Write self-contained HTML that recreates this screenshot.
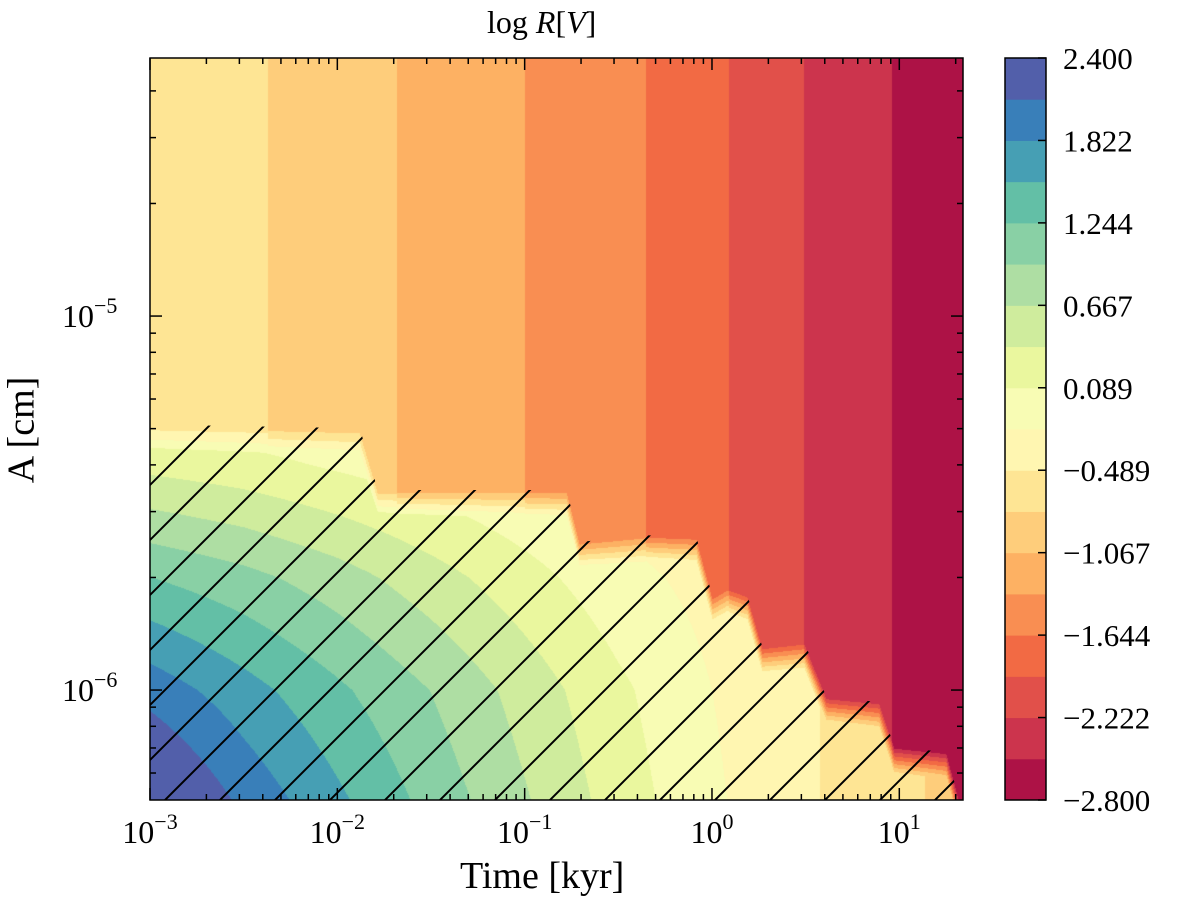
<!DOCTYPE html>
<html><head><meta charset="utf-8"><style>
body{margin:0;background:#fff;width:1200px;height:914px;overflow:hidden;position:relative;font-family:"Liberation Serif",serif;}
.t{position:absolute;font-size:29px;color:#000;white-space:nowrap;}
canvas{position:absolute;}
svg{position:absolute;left:0;top:0;}
</style></head><body>
<canvas id="field" width="813" height="742" style="left:150px;top:58px"></canvas>
<svg id="ov" width="1200" height="914"></svg>
<div class="t" style="left:487px;top:4px;font-size:32px">log <i>R</i>[<i>V</i>]</div>
<div class="t" style="left:460px;top:854px;font-size:38px">Time [kyr]</div>
<div class="t" style="left:-32px;top:408px;font-size:38px;transform:rotate(-90deg)">A [cm]</div>
<script>
// ---- data ----
const X0=-3, X1=1.34, Y0=-6.294, Y1=-4.31;
const topEdgesLogT=[-2.37,-1.68,-1.00,-0.35,0.09,0.49,0.96];
const topValues=[-0.64,-0.93,-1.21,-1.50,-1.79,-2.08,-2.37,-2.65];
const lowLogT=[-3,-2.5,-2,-1.5,-1,-0.5,0,0.5,1,1.35];
const lowLogA=[-6.3,-6.0,-5.7,-5.4,-5.1];
const lowZ=[
 [2.6,2.05,1.6,1.15,0.7,0.25,-0.15,-0.45,-0.7,-0.9],
 [2.0,1.65,1.3,0.95,0.55,0.15,-0.2,-0.45,-0.7,-0.9],
 [1.25,1.05,0.8,0.5,0.2,-0.1,-0.3,-0.5,-0.75,-0.9],
 [0.3,0.2,0.05,-0.1,-0.25,-0.4,-0.5,-0.65,-0.85,-0.95],
 [-0.5,-0.5,-0.55,-0.6,-0.65,-0.7,-0.75,-0.8,-0.9,-1.0]];
const bndLogT=[-3,-1.88,-1.784,-0.776,-0.707,-0.349,-0.083,0.003,0.083,0.189,0.269,0.493,0.611,0.893,0.973,1.251,1.320,1.34];
const bndLogA=[-5.29,-5.30,-5.465,-5.465,-5.604,-5.586,-5.591,-5.751,-5.727,-5.746,-5.885,-5.872,-6.019,-6.032,-6.152,-6.166,-6.294,-6.3];
const levelMin=-2.8, levelMax=2.4, nLevels=18;
const cbLabels=["2.400","1.822","1.244","0.667","0.089","\u22120.489","\u22121.067","\u22121.644","\u22122.222","\u22122.800"];
// ---- scales ----
const PL=150,PR=963,PT=58,PB=800;
const sx=v=>PL+(v-X0)/(X1-X0)*(PR-PL);
const sy=v=>PB-(v-Y0)/(Y1-Y0)*(PB-PT);
const spec=[[158,1,66],[213,62,79],[244,109,67],[253,174,97],[254,224,139],[255,255,191],[230,245,152],[171,221,164],[102,194,165],[50,136,189],[94,79,162]];
function cmap(f){f=Math.max(0,Math.min(1,f));const p=f*10,i=Math.min(9,Math.floor(p)),t=p-i;const a=spec[i],b=spec[i+1];return [0,1,2].map(k=>Math.round(a[k]+(b[k]-a[k])*t));}
function levelColor(z){let i=Math.floor((z-levelMin)/((levelMax-levelMin)/nLevels));i=Math.max(0,Math.min(nLevels-1,i));return cmap((i+0.5)/nLevels);}
function interp1(xs,ys,x){if(x<=xs[0])return ys[0];for(let i=1;i<xs.length;i++){if(x<=xs[i]){const t=(x-xs[i-1])/(xs[i]-xs[i-1]);return ys[i-1]+(ys[i]-ys[i-1])*t;}}return ys[ys.length-1];}
function zTop(lt){let i=0;while(i<topEdgesLogT.length&&lt>topEdgesLogT[i])i++;return topValues[i];}
function zLow(lt,la){const rows=lowZ.map(r=>interp1(lowLogT,r,lt));return interp1(lowLogA,rows,la);}
function zAt(lt,la){const b=interp1(bndLogT,bndLogA,lt);const d=b-la;const zt=zTop(lt);if(d<=0)return zt;const zl=zLow(lt,la);if(d<0.07)return zt+(zl-zt)*(d/0.07);return zl;}
// ---- field ----
const cv=document.getElementById('field'),ctx=cv.getContext('2d');
const W=cv.width,H=cv.height,img=ctx.createImageData(W,H);
for(let py=0;py<H;py++){const la=Y1-(py+0.5)/H*(Y1-Y0);
 for(let px=0;px<W;px++){const lt=X0+(px+0.5)/W*(X1-X0);const c=levelColor(zAt(lt,la));const o=(py*W+px)*4;img.data[o]=c[0];img.data[o+1]=c[1];img.data[o+2]=c[2];img.data[o+3]=255;}}
ctx.putImageData(img,0,0);
// ---- overlay ----
const NS='http://www.w3.org/2000/svg',ov=document.getElementById('ov');
function mk(tag,at,parent){const e=document.createElementNS(NS,tag);for(const k in at)e.setAttribute(k,at[k]);(parent||ov).appendChild(e);return e;}
const defs=mk('defs',{});const cp=mk('clipPath',{id:'hc'},defs);
let pts=bndLogT.map((t,i)=>sx(t)+','+sy(bndLogA[i])).join(' ');pts+=' '+PR+','+PB+' '+PL+','+PB;
mk('polygon',{points:pts},cp);
const hg=mk('g',{'clip-path':'url(#hc)'});


for(let k=0;k<40;k++){const xb=-265+k*55;mk('line',{x1:xb,y1:900,x2:xb+900,y2:0,stroke:'#000','stroke-width':2},hg);}
const fr=mk('rect',{x:PL,y:PT,width:PR-PL,height:PB-PT,fill:'none',stroke:'#000','stroke-width':1.5});


for(let d=-3;d<=1;d++){for(let m=1;m<10;m++){const v=d+Math.log10(m);if(v>X1)break;const x=sx(v),L=m==1?12:6;
 mk('line',{x1:x,y1:PB,x2:x,y2:PB-L,stroke:'#000','stroke-width':1.5});mk('line',{x1:x,y1:PT,x2:x,y2:PT+L,stroke:'#000','stroke-width':1.5});
 if(m==1){const t=mk('text',{x:x,y:843,'text-anchor':'middle','font-size':32,'font-family':'Liberation Serif'});t.textContent='10';const s=mk('tspan',{dy:-14,'font-size':22},t);s.textContent=(d<0?'\u2212'+(-d):''+d);}}}
for(let d=-7;d<=-4;d++){for(let m=1;m<10;m++){const v=d+Math.log10(m);if(v<Y0||v>Y1)continue;const y=sy(v),L=m==1?12:6;
 mk('line',{x1:PL,y1:y,x2:PL+L,y2:y,stroke:'#000','stroke-width':1.5});mk('line',{x1:PR,y1:y,x2:PR-L,y2:y,stroke:'#000','stroke-width':1.5});
 if(m==1){const t=mk('text',{x:62,y:y+11,'font-size':32,'font-family':'Liberation Serif'});t.textContent='10';const s=mk('tspan',{dy:-14,'font-size':22},t);s.textContent='\u2212'+(-d);}}}
const CX=1005,CW=41,CT=58,CB=800,bh=(CB-CT)/nLevels;
for(let i=0;i<nLevels;i++){const c=cmap((i+0.5)/nLevels);const r=mk('rect',{x:CX,y:CB-(i+1)*bh,width:CW,height:bh+0.5,fill:'rgb('+c.join(',')+')'});}
mk('rect',{x:CX,y:CT,width:CW,height:CB-CT,fill:'none',stroke:'#000','stroke-width':1.5});
cbLabels.forEach((lab,i)=>{const y=CT+i*2*bh;mk('line',{x1:CX+CW,y1:y,x2:CX+CW-8,y2:y,stroke:'#000','stroke-width':1.5});
 const t=mk('text',{x:1063,y:y+11,'font-size':31,'font-family':'Liberation Serif'});t.textContent=lab;});
</script>
</body></html>
